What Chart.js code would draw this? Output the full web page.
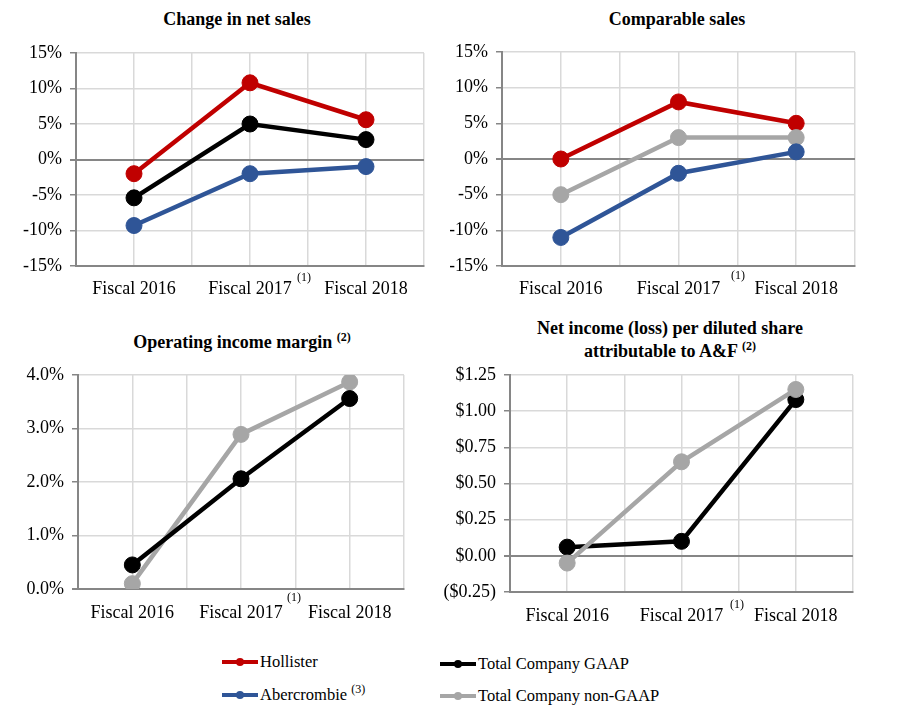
<!DOCTYPE html>
<html>
<head>
    <title>A&amp;F Fiscal Results</title>
    <script src="https://cdn.jsdelivr.net/npm/chart.js"></script>
    <style>
        body { margin: 0; background: #fff; font-family: 'Liberation Serif', 'Times New Roman', serif; }
        #wrap { position: relative; width: 910px; height: 705px; overflow: hidden; }
        canvas { position: absolute; }
        .title { position: absolute; font-weight: bold; font-size: 18px; text-align: center; line-height: 23px; color: #000; white-space: nowrap; }
        .sup { font-size: 12px; position: relative; top: -7px; }
        .note { position: absolute; font-size: 12px; color: #000; }
        .leg { position: absolute; font-size: 16.5px; color: #000; height: 20px; line-height: 20px; white-space: nowrap; }
        .swatch { display: inline-block; position: relative; width: 36px; height: 4px; vertical-align: middle; margin-right: 2px; top: -1px; }
        .swatch i { position: absolute; left: 14px; top: -2px; width: 8px; height: 8px; border-radius: 50%; background: inherit; }
    </style>
</head>
<body>
<div id="wrap">
    <div class="title" style="left:137px;top:8px;width:200px;">Change in net sales</div>
    <div class="title" style="left:577px;top:8px;width:200px;">Comparable sales</div>
    <div class="title" style="left:112px;top:331px;width:260px;">Operating income margin <span class="sup">(2)</span></div>
    <div class="title" style="left:510px;top:317px;width:320px;">Net income (loss) per diluted share<br>attributable to A&amp;F <span class="sup">(2)</span></div>

    <canvas id="c1" width="450" height="310" style="left:0;top:0"></canvas>
    <canvas id="c2" width="460" height="310" style="left:450px;top:0"></canvas>
    <canvas id="c3" width="420" height="320" style="left:0;top:310px"></canvas>
    <canvas id="c4" width="490" height="320" style="left:420px;top:310px"></canvas>

    <div class="note" style="left:297px;top:270px;">(1)</div>
    <div class="note" style="left:731px;top:268px;">(1)</div>
    <div class="note" style="left:287px;top:590px;">(1)</div>
    <div class="note" style="left:730px;top:597px;">(1)</div>

    <div id="legend"></div>
</div>

<script>
    // categories
    const fiscalYears = ['Fiscal 2016', 'Fiscal 2017', 'Fiscal 2018'];

    // Change in net sales (%)
    const netSalesHollister = [-2.0, 10.8, 5.6];
    const netSalesGAAP = [-5.4, 5.0, 2.8];
    const netSalesAbercrombie = [-9.3, -2.0, -1.0];

    // Comparable sales (%)
    const compHollister = [0, 8, 5];
    const compNonGAAP = [-5, 3, 3];
    const compAbercrombie = [-11, -2, 1];

    // Operating income margin (%)
    const marginGAAP = [0.45, 2.06, 3.56];
    const marginNonGAAP = [0.1, 2.89, 3.87];

    // Net income (loss) per diluted share ($)
    const epsGAAP = [0.06, 0.10, 1.08];
    const epsNonGAAP = [-0.05, 0.65, 1.15];

    const RED = '#c00000', BLUE = '#2f5597', BLACK = '#000000', GRAY = '#a6a6a6';
    const AXIS = '#868686', GRID = '#d9d9d9';
    const FONT = { family: "'Liberation Serif', 'Times New Roman', serif", size: 18 };

    // legend
    const legendItems = [
        { name: 'Hollister', color: RED, left: 222, top: 652 },
        { name: 'Abercrombie', color: BLUE, left: 222, top: 685, sup: '(3)' },
        { name: 'Total Company GAAP', color: BLACK, left: 440, top: 654 },
        { name: 'Total Company non-GAAP', color: GRAY, left: 440, top: 686 }
    ];
    const legendEl = document.getElementById('legend');
    legendItems.forEach(it => {
        const d = document.createElement('div');
        d.className = 'leg';
        d.style.left = it.left + 'px';
        d.style.top = it.top + 'px';
        d.innerHTML = '<span class="swatch" style="background:' + it.color + '"><i></i></span>' + it.name +
            (it.sup ? ' <span class="sup">' + it.sup + '</span>' : '');
        legendEl.appendChild(d);
    });

    // each year sits in the middle of a pair of grid columns (0..6)
    const toPoints = vals => vals.map((v, i) => ({ x: i * 2 + 1, y: v }));

    function series(data, color) {
        return {
            data: toPoints(data),
            borderColor: color,
            backgroundColor: color,
            borderWidth: 4.5,
            pointRadius: 8,
            pointBorderWidth: 1,
            pointBorderColor: color,
            pointBackgroundColor: color,
            tension: 0
        };
    }

    function makeChart(id, datasets, yMin, yMax, yStep, yFmt, box) {
        const canvas = document.getElementById(id);
        return new Chart(canvas.getContext('2d'), {
            type: 'line',
            data: { datasets: datasets },
            options: {
                responsive: false,
                animation: false,
                devicePixelRatio: 1,
                layout: { padding: { left: 0, top: box.top, right: canvas.width - box.right, bottom: 0 } },
                plugins: { legend: { display: false }, tooltip: { enabled: false } },
                scales: {
                    x: {
                        type: 'linear',
                        min: 0, max: 6,
                        afterFit: s => { s.height = canvas.height - box.bottom; },
                        ticks: {
                            stepSize: 1, autoSkip: false, maxRotation: 0,
                            color: '#000', font: FONT, padding: box.xPad,
                            callback: v => (v % 2 === 1 ? fiscalYears[(v - 1) / 2] : '')
                        },
                        grid: { color: GRID, lineWidth: 1.5, drawTicks: false },
                        border: { display: true, color: AXIS, width: 2 }
                    },
                    y: {
                        min: yMin, max: yMax,
                        afterFit: s => { s.width = box.left; },
                        ticks: {
                            stepSize: yStep, autoSkip: false,
                            color: '#000', font: FONT, padding: 8,
                            callback: yFmt
                        },
                        grid: {
                            color: c => (c.tick && c.tick.value === 0 ? AXIS : GRID),
                            lineWidth: c => (c.tick && c.tick.value === 0 ? 2 : 1.5),
                            tickColor: AXIS,
                            tickLength: 6
                        },
                        border: { display: true, color: AXIS, width: 2 }
                    }
                }
            }
        });
    }

    const pct = v => v + '%';
    const pct1 = v => v.toFixed(1) + '%';
    const dollars = v => (v < 0 ? '($' + Math.abs(v).toFixed(2) + ')' : '$' + v.toFixed(2));

    makeChart('c1', [
        series(netSalesHollister, RED),
        series(netSalesGAAP, BLACK),
        series(netSalesAbercrombie, BLUE)
    ], -15, 15, 5, pct, { left: 76, right: 424, top: 53, bottom: 266, xPad: 12 });

    makeChart('c2', [
        series(compAbercrombie, BLUE),
        series(compNonGAAP, GRAY),
        series(compHollister, RED)
    ], -15, 15, 5, pct, { left: 52, right: 405, top: 52, bottom: 266, xPad: 12 });

    makeChart('c3', [
        series(marginGAAP, BLACK),
        series(marginNonGAAP, GRAY)
    ], 0, 4, 1, pct1, { left: 78, right: 404, top: 65, bottom: 279, xPad: 13 });

    makeChart('c4', [
        series(epsNonGAAP, GRAY),
        series(epsGAAP, BLACK)
    ], -0.25, 1.25, 0.25, dollars, { left: 90, right: 433, top: 65, bottom: 282, xPad: 13 });
</script>
</body>
</html>
